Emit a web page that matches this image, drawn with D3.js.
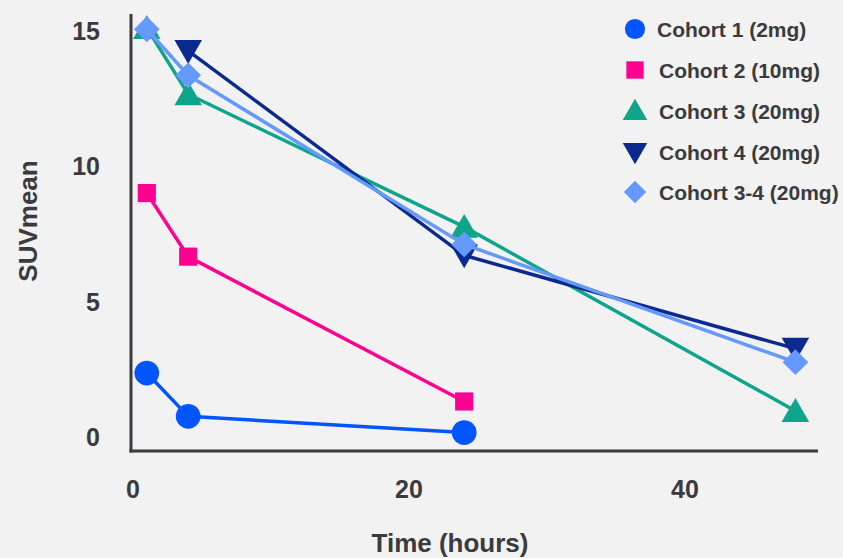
<!DOCTYPE html>
<html><head><meta charset="utf-8">
<script src="https://cdn.jsdelivr.net/npm/d3@7"></script>
<style>html,body{margin:0;padding:0;background:#f2f2f2;}svg{display:block;font-family:"Liberation Sans",Arial,sans-serif;}</style>
</head><body><svg id="c" width="843" height="558"></svg>
<script>
const seriesNames = ["Cohort 1 (2mg)","Cohort 2 (10mg)","Cohort 3 (20mg)","Cohort 4 (20mg)","Cohort 3-4 (20mg)"];
const colors = ["#0055ff","#ff0090","#0ea58a","#0a2a8f","#6699ff"];
const symbols = ["circle","square","triangleUp","triangleDown","diamond"];
const c1Time = [1,4,24], c1Val = [2.4,0.8,0.2];
const c2Time = [1,4,24], c2Val = [9.05,6.7,1.35];
const c3Time = [1,4,24,48], c3Val = [15.15,12.7,7.8,1.0];
const c4Time = [4,24,48], c4Val = [14.3,6.75,3.3];
const c34Time = [1,4,24,48], c34Val = [15.1,13.4,7.15,2.8];
const xTicks = [0,20,40];
const yTicks = [0,5,10,15];

const series = [[c1Time,c1Val],[c2Time,c2Val],[c3Time,c3Val],[c4Time,c4Val],[c34Time,c34Val]]
  .map((s,i)=>({name:seriesNames[i],color:colors[i],sym:symbols[i],pts:s[0].map((t,j)=>[t,s[1][j]])}));

const svg = d3.select("#c");
const x = d3.scaleLinear().domain([0,40]).range([133,685]);
const y = d3.scaleLinear().domain([0,15]).range([438,32]);
const xMin = x.invert(131), xMax = x.invert(818);
const yMin = y.invert(451), yMax = y.invert(14);

const ink = "#3a3a3f";
svg.append("line").attr("x1",x(xMin)).attr("x2",x(xMin)).attr("y1",y(yMax)).attr("y2",y(yMin)+1.5).attr("stroke",ink).attr("stroke-width",3);
svg.append("line").attr("x1",x(xMin)-1.5).attr("x2",x(xMax)).attr("y1",y(yMin)).attr("y2",y(yMin)).attr("stroke",ink).attr("stroke-width",3);

svg.append("g").selectAll("text").data(yTicks).join("text")
  .attr("x",100).attr("y",d=>y(d)+8).attr("text-anchor","end")
  .attr("font-size",25).attr("font-weight","bold").attr("fill",ink).text(d=>d);
svg.append("g").selectAll("text").data(xTicks).join("text")
  .attr("x",d=>x(d)).attr("y",498).attr("text-anchor","middle")
  .attr("font-size",25).attr("font-weight","bold").attr("fill",ink).text(d=>d);

svg.append("text").attr("transform","translate(37,221) rotate(-90)").attr("text-anchor","middle")
  .attr("font-size",26).attr("font-weight","bold").attr("fill",ink).text("SUVmean");
svg.append("text").attr("x",450).attr("y",552).attr("text-anchor","middle")
  .attr("font-size",26).attr("font-weight","bold").attr("fill",ink).text("Time (hours)");

const symMap = {circle:d3.symbolCircle,square:d3.symbolSquare,triangleUp:d3.symbolTriangle,triangleDown:d3.symbolTriangle,diamond:d3.symbolSquare};
function symPath(sym,size){return d3.symbol(symMap[sym],size)();}
function symTransform(sym,px,py){
  if(sym==="triangleDown") return `translate(${px},${py}) rotate(180)`;
  if(sym==="diamond") return `translate(${px},${py}) rotate(45)`;
  return `translate(${px},${py})`;
}
const sizes = {circle:480,square:330,triangleUp:330,triangleDown:330,diamond:330};

const line = d3.line().x(d=>x(d[0])).y(d=>y(d[1]));
const order = [2,3,4,1,0];
order.forEach(i=>{
  const s = series[i];
  const g = svg.append("g");
  g.append("path").attr("d",line(s.pts)).attr("fill","none").attr("stroke",s.color).attr("stroke-width",3.5);
  g.selectAll("path.m").data(s.pts).join("path").attr("class","m")
    .attr("d",symPath(s.sym,sizes[s.sym])).attr("transform",d=>symTransform(s.sym,x(d[0]),y(d[1])+(s.sym==="triangleUp"?3:s.sym==="triangleDown"?-3:0)))
    .attr("fill",s.color);
});

const legY = [29,70,111,152,192];
const legSizes = {circle:320,square:300,triangleUp:260,triangleDown:260,diamond:250};
const lg = svg.append("g");
series.forEach((s,i)=>{
  lg.append("path").attr("d",symPath(s.sym,legSizes[s.sym]))
    .attr("transform",symTransform(s.sym,635,legY[i]+(s.sym==="triangleUp"?2:s.sym==="triangleDown"?-2:0))).attr("fill",s.color);
  lg.append("text").attr("x",i===0?657:659).attr("y",legY[i]+7.5)
    .attr("font-size",21).attr("font-weight","bold").attr("fill",ink).text(s.name);
});
</script></body></html>
